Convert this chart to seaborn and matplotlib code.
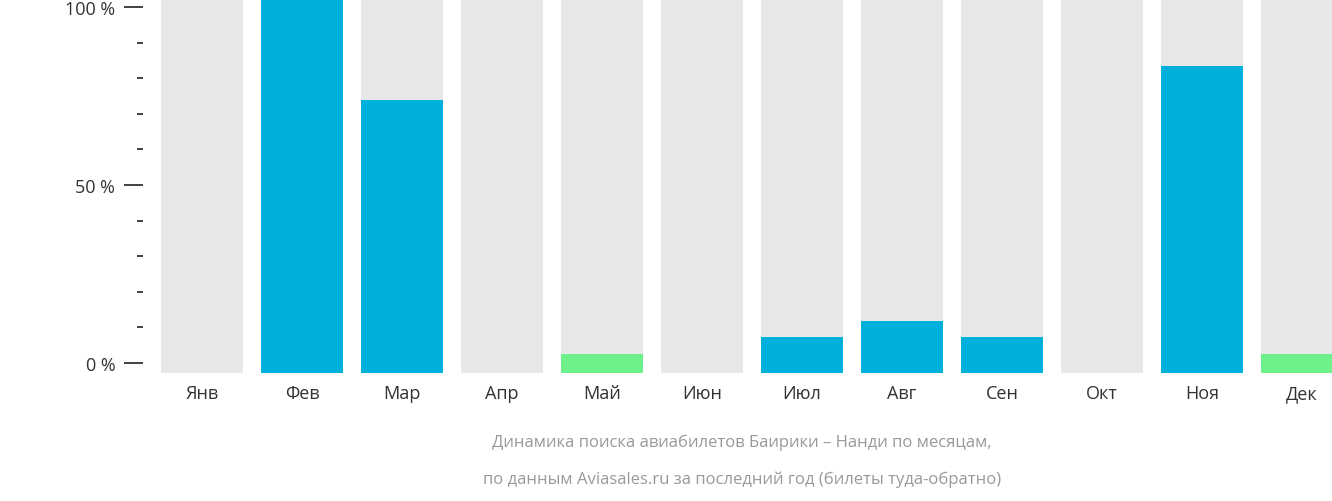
import matplotlib
matplotlib.use("Agg")
import matplotlib.pyplot as plt
import seaborn as sns
import pandas as pd
import numpy as np

months = ["Янв","Фев","Мар","Апр","Май","Июн","Июл","Авг","Сен","Окт","Ноя","Дек"]
values = [0, 100, 73, 0, 5, 0, 9.5, 14, 9.5, 0, 82, 5]
kinds = ["b","b","b","b","g","b","b","b","b","b","b","g"]
tick_labels = ["0 %", "50 %", "100 %"]

H = 374.0  # vertical scale units (pixel-like)
df = pd.DataFrame({"m": months, "h": [v/100*H for v in values], "k": kinds,
                   "bg": [H]*12})

fig = plt.figure(figsize=(13.32, 5.02), dpi=100)
ax = fig.add_axes([143/1332, 1-374/502, (1332-143)/1332, 374/502])
sns.barplot(data=df, x="m", y="bg", color="#e8e8e8", width=0.82, saturation=1, ax=ax)
sns.barplot(data=df, x="m", y="h", hue="k", palette={"b": "#00b0dc", "g": "#6ef08a"},
            width=0.82, saturation=1, legend=False, ax=ax, dodge=False)
ax.set_xlim(-0.59, 11.3)
ax.set_ylim(0, H)
for s in ax.spines.values():
    s.set_visible(False)
zero, top = 10, 366
ax.set_yticks([zero, (zero+top)/2, top], tick_labels)
ax.set_yticks(np.linspace(zero, top, 11), minor=True)
ax.tick_params(axis="y", which="major", length=14, width=1.3, color="#333333",
               labelsize=13, labelcolor="#333333", pad=6)
ax.tick_params(axis="y", which="minor", length=4, width=1.3, color="#333333")
ax.tick_params(axis="x", length=0, labelsize=13, labelcolor="#333333", pad=8)
for t in ax.get_xticklabels() + ax.get_yticklabels():
    t.set_fontfamily("Open Sans")
ax.set_xlabel(""); ax.set_ylabel("")
fig.text(742/1332, 1-443/502, "Динамика поиска авиабилетов Баирики – Нанди по месяцам,",
         ha="center", va="center", fontsize=12, color="#999999", family="Open Sans")
fig.text(742/1332, 1-480/502, "по данным Aviasales.ru за последний год (билеты туда-обратно)",
         ha="center", va="center", fontsize=12, color="#999999", family="Open Sans")
fig.savefig("out.png", dpi=100)
